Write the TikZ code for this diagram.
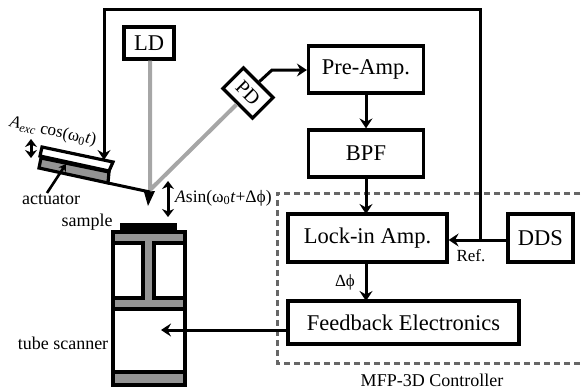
\documentclass[tikz,border=0pt]{standalone}
\usepackage{fontspec}
\setmainfont{Liberation Serif}
\usetikzlibrary{arrows.meta}
\definecolor{beam}{gray}{0.65}
\definecolor{fillg}{gray}{0.58}
\tikzset{
  blockbox/.style={draw=black,line width=3.2pt,fill=white,inner sep=0pt,font=\fontsize{22.5}{24}\selectfont},
  link/.style={draw=black,line width=3pt,-{Stealth[length=10pt,width=13pt,inset=3.5pt]}},
  dbl/.style={draw=black,line width=3pt,{Stealth[length=8pt,width=12pt,inset=2.5pt]}-{Stealth[length=8pt,width=12pt,inset=2.5pt]}},
  beamline/.style={draw=beam,line width=4pt},
  lab/.style={inner sep=0pt,font=\fontsize{18}{20}\selectfont},
  solid frame/.style={draw=black,line width=3.2pt}
}
\begin{document}
\begin{tikzpicture}[x=1pt,y=-1pt]
\useasboundingbox (0,0) rectangle (582,391);
% dashed controller box
\draw[draw=black!60,line width=3pt,dash pattern=on 6pt off 4pt] (590,193) -- (277,193) -- (277,363) -- (590,363);
\node[lab] (ctrl) at (432,380) {MFP-3D Controller};
% blocks
\node[blockbox,minimum width=50pt,minimum height=32pt] (ld) at (149,43) {LD};
\node[blockbox,minimum width=115pt,minimum height=47pt] (pre) at (366,69.5) {Pre-Amp.};
\node[blockbox,minimum width=115pt,minimum height=47pt] (bpf) at (366,153.5) {BPF};
\node[blockbox,minimum width=159pt,minimum height=48pt] (lock) at (367.5,238) {Lock-in Amp.};
\node[blockbox,minimum width=65pt,minimum height=48pt] (dds) at (540.5,238) {DDS};
\node[blockbox,minimum width=231pt,minimum height=43pt] (fb) at (403.5,322.5) {Feedback Electronics};
\node[blockbox,minimum width=42pt,minimum height=29pt,rotate=-45,font=\fontsize{20}{22}\selectfont] (pd) at (248,93) {PD};
% laser
\coordinate (spot) at (150,190);
\draw[beamline] (ld.south -| spot) -- (spot) -- (pd.south);
% scanner
\fill[fillg] (112,231) rectangle (185,243);
\fill[fillg] (143,243) rectangle (153,298);
\fill[fillg] (112,298) rectangle (185,308);
\fill[fillg] (112,372) rectangle (185,385);
\draw[solid frame] (113,232) rectangle (185,385);
\draw[solid frame] (113,243) -- (143,243) -- (143,298) -- (113,298);
\draw[solid frame] (185,243) -- (154,243) -- (154,298) -- (185,298);
\draw[solid frame] (113,309) -- (185,309);
\draw[solid frame] (113,372) -- (185,372);
\fill[black] (120,223) rectangle (177,231);
\coordinate (scan) at (161,330);
% actuator & cantilever
\draw[solid frame,fill=white] (42,147) -- (113,162) -- (109,171) -- (40,156) -- cycle;
\draw[solid frame,fill=fillg] (41,158) -- (109,172) -- (108,183) -- (39,168) -- cycle;
\draw[draw=black,line width=3pt] (108,183) -- (150,192);
\fill[black] (144,192) -- (155,191) -- (148,206) -- cycle;
% connectors
\coordinate (topL) at (104,9);
\coordinate (topR) at (480,9);
\coordinate (actin) at (104,160);
\coordinate (junc) at (480,240);
\draw[link] (junc) -- (topR) -- (topL) -- (actin);
\draw[link] (dds.west |- junc) -- (lock.east |- junc);
\coordinate (pdk) at (272,70);
\draw[link] (pd.north) -- (pdk) -- (pre.west |- pdk);
\draw[link] (pre.south) -- (bpf.north);
\draw[link] (bpf.south) -- (366,214);
\draw[link] (366,262) -- (366,301);
\draw[link] (fb.west |- scan) -- (scan);
\coordinate (ua) at (168,181);
\coordinate (ub) at (168,217);
\draw[dbl] (ua) -- (ub);
\coordinate (ea) at (31,139);
\coordinate (eb) at (31,158);
\draw[dbl] (ea) -- (eb);
\node[lab] (actlab) at (51,200) {actuator};
\coordinate (actip) at (66,164);
\draw[draw=black,line width=2.6pt,-{Stealth[length=7pt,width=9pt]}] (47,193) -- (actip);
% labels
\node[lab] (samp) at (87,222) {sample};
\node[lab] (tube) at (63,343) {tube scanner};
\node[lab,anchor=west] (asin) at (175,198) {\fontsize{17.5}{19}\selectfont\textit{A}sin(ω\textsubscript{0}\textit{t}+Δϕ)};
\node[lab,rotate=-12] (aexc) at (53,132) {\fontsize{17}{19}\selectfont\textit{A}\textsubscript{\textit{exc}} cos(ω\textsubscript{0}\textit{t})};
\node[lab,font=\fontsize{17}{19}\selectfont] (dphi) at (345,282) {Δϕ};
\node[lab,font=\fontsize{17}{19}\selectfont] (ref) at (471,256) {Ref.};
\end{tikzpicture}
\end{document}
